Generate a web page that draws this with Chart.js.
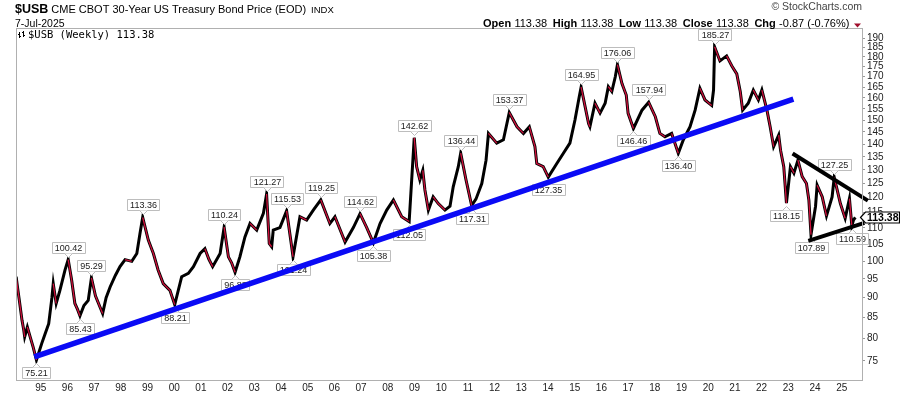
<!DOCTYPE html>
<html>
<head>
<meta charset="utf-8">
<script src="https://cdn.jsdelivr.net/npm/chart.js@4.4.1/dist/chart.umd.min.js"></script>
<style>
  html, body { margin: 0; padding: 0; background: #fff; }
</style>
</head>
<body>
<canvas id="chart" width="900" height="396"></canvas>
<script>
// $USB weekly as (decimal year, price)
const priceYears = [
  1994.08, 1994.13, 1994.20, 1994.30, 1994.36, 1994.40, 1994.50, 1994.60, 1994.72, 1994.84,
  1995.04, 1995.16, 1995.30, 1995.42, 1995.47, 1995.58, 1995.72, 1995.91, 1996.03, 1996.16,
  1996.28, 1996.38, 1996.47, 1996.62, 1996.78, 1996.90, 1997.05, 1997.22, 1997.32, 1997.45,
  1997.60, 1997.80, 1997.97, 1998.16, 1998.41, 1998.60, 1998.72, 1998.82, 1999.03, 1999.22,
  1999.40, 1999.59, 1999.84, 2000.02, 2000.28, 2000.53, 2000.72, 2000.97, 2001.15, 2001.30,
  2001.44, 2001.72, 2001.87, 2002.03, 2002.15, 2002.28, 2002.46, 2002.65, 2002.84, 2003.09,
  2003.34, 2003.46, 2003.56, 2003.65, 2003.71, 2003.96, 2004.21, 2004.40, 2004.45, 2004.71,
  2004.96, 2005.21, 2005.49, 2005.83, 2006.02, 2006.40, 2006.71, 2006.96, 2007.21, 2007.46,
  2007.71, 2007.96, 2008.21, 2008.52, 2008.80, 2008.99, 2009.08, 2009.20, 2009.31, 2009.39,
  2009.52, 2009.70, 2009.89, 2010.14, 2010.33, 2010.45, 2010.64, 2010.73, 2010.93, 2011.14,
  2011.30, 2011.52, 2011.68, 2011.77, 2012.08, 2012.33, 2012.55, 2012.84, 2013.08, 2013.30,
  2013.51, 2013.58, 2013.82, 2014.01, 2014.33, 2014.57, 2014.82, 2015.01, 2015.17, 2015.24,
  2015.52, 2015.57, 2015.76, 2015.95, 2016.14, 2016.26, 2016.39, 2016.52, 2016.60, 2016.77,
  2016.93, 2017.00, 2017.20, 2017.52, 2017.77, 2018.02, 2018.19, 2018.38, 2018.63, 2018.88,
  2019.07, 2019.32, 2019.51, 2019.69, 2019.88, 2020.13, 2020.20, 2020.24, 2020.44, 2020.69,
  2020.88, 2021.07, 2021.20, 2021.29, 2021.50, 2021.69, 2021.88, 2022.01, 2022.20, 2022.32,
  2022.45, 2022.64, 2022.71, 2022.83, 2022.93, 2023.08, 2023.21, 2023.36, 2023.52, 2023.68,
  2023.77, 2023.85, 2024.02, 2024.08, 2024.27, 2024.43, 2024.64, 2024.72, 2024.95, 2025.13,
  2025.29, 2025.38, 2025.44, 2025.51
];
const priceValues = [
  95.6, 92.8, 89.3, 84.3, 82.2, 80.4, 82.7, 80.5, 78.0, 75.21,
  78.9, 81.0, 83.5, 90.0, 93.7, 88.5, 91.9, 97.4, 100.42, 94.6,
  88.5, 87.0, 85.43, 88.0, 89.3, 95.29, 90.5, 87.6, 86.0, 90.0,
  92.8, 96.0, 98.4, 100.4, 99.9, 102.2, 108.3, 113.36, 106.2, 102.2,
  97.4, 93.7, 91.9, 88.21, 95.6, 96.5, 98.4, 102.2, 103.6, 100.5,
  98.4, 102.2, 110.24, 101.2, 99.5, 96.83, 101.2, 107.2, 111.4, 109.3,
  114.7, 121.27, 105.2, 104.2, 109.3, 110.1, 115.53, 104.2, 101.24, 113.6,
  112.5, 115.8, 119.25, 111.4, 113.6, 105.6, 110.1, 114.62, 110.1, 105.38,
  111.4, 115.8, 119.2, 113.6, 112.05, 142.62, 131.2, 126.3, 129.8, 122.7,
  115.8, 120.3, 118.0, 115.8, 117.1, 123.8, 131.2, 136.44, 126.3, 117.31,
  119.5, 125.0, 133.7, 144.4, 140.4, 141.8, 153.37, 147.2, 144.4, 147.2,
  139.0, 132.4, 131.2, 127.35, 132.4, 136.3, 140.4, 150.1, 160.5, 164.95,
  148.6, 147.2, 157.5, 153.1, 157.5, 165.2, 162.9, 170.0, 176.06, 166.7,
  161.3, 153.0, 146.46, 154.4, 157.94, 151.5, 144.4, 143.0, 144.4, 136.40,
  141.8, 147.2, 154.4, 164.4, 159.0, 156.5, 163.6, 185.27, 177.9, 180.5,
  175.5, 171.4, 162.9, 154.4, 157.5, 163.6, 159.0, 163.6, 154.4, 147.2,
  139.0, 143.7, 137.6, 131.2, 118.15, 131.2, 128.8, 133.7, 127.5, 125.0,
  119.2, 107.89, 117.1, 124.4, 120.3, 113.9, 120.3, 127.25, 118.0, 113.1,
  119.7, 110.59, 112.5, 113.38
];

// labelled highs and lows
const peakYears  = [1996.03, 1996.90, 1998.82, 2001.87, 2003.46, 2004.21, 2005.49, 2006.96, 2008.99, 2010.73, 2012.55, 2015.24, 2016.60, 2017.77, 2020.24, 2024.72];
const peakValues = [100.42, 95.29, 113.36, 110.24, 121.27, 115.53, 119.25, 114.62, 142.62, 136.44, 153.37, 164.95, 176.06, 157.94, 185.27, 127.25];
const lowYears   = [1994.84, 1996.47, 2000.02, 2002.28, 2004.45, 2007.46, 2008.80, 2011.14, 2014.01, 2017.20, 2018.88, 2022.93, 2023.85, 2025.38];
const lowValues  = [75.21, 85.43, 88.21, 96.83, 101.24, 105.38, 112.05, 117.31, 127.35, 146.46, 136.40, 118.15, 107.89, 110.59];

// trend lines
const trendYears  = [1994.76, 2023.19];
const trendValues = [75.9, 159.4];
const wedgeTopYears  = [2023.16, 2025.98];
const wedgeTopValues = [136.3, 119.0];
const wedgeLowYears  = [2023.75, 2025.85];
const wedgeLowValues = [106.0, 111.6];

// axes
const yearTicks = [];
for (let y = 1995; y <= 2025; y++) yearTicks.push(y);
const priceTicks = [];
for (let p = 75; p <= 190; p += 5) priceTicks.push(p);

const lastPrice = 113.38;

const SANS = '"Liberation Sans", Arial, sans-serif';
const RED = '#d0103c';

const toPts = (xs, ys) => xs.map((x, i) => ({ x: x, y: ys[i] }));

// grey call-out boxes on highs and lows
function drawTag(ctx, x, yTip, text, below) {
    ctx.font = '9px ' + SANS;
    const w = Math.round(ctx.measureText(text).width) + 5;
    const h = 11;
    const cx = Math.round(x) + 0.5;
    const left = Math.round(x - w / 2) + 0.5;
    const tip = Math.round(yTip) + 0.5;
    const edge = below ? tip + 4 : tip - 4;
    const top = below ? edge : edge - h;
    ctx.fillStyle = '#fff';
    ctx.fillRect(left, top, w, h);
    ctx.strokeStyle = '#bdbdbd';
    ctx.lineWidth = 1;
    ctx.beginPath();
    ctx.rect(left, top, w, h);
    ctx.stroke();
    // pointer
    ctx.fillStyle = '#fff';
    ctx.beginPath();
    ctx.moveTo(cx - 4, edge);
    ctx.lineTo(cx, tip);
    ctx.lineTo(cx + 4, edge);
    ctx.closePath();
    ctx.fill();
    ctx.beginPath();
    ctx.moveTo(cx - 4, edge);
    ctx.lineTo(cx, tip);
    ctx.lineTo(cx + 4, edge);
    ctx.stroke();
    ctx.fillStyle = '#1a1a1a';
    ctx.textAlign = 'center';
    ctx.textBaseline = 'middle';
    ctx.fillText(text, cx, top + h / 2 + 0.5);
}

const tagsPlugin = {
    id: 'tags',
    afterDatasetDraw(chart, args) {
        if (args.index !== 1) return;
        const { ctx, scales: { x, y } } = chart;
        ctx.save();
        peakYears.forEach((yr, i) => {
            drawTag(ctx, x.getPixelForValue(yr), y.getPixelForValue(peakValues[i]) - 3, peakValues[i].toFixed(2), false);
        });
        lowYears.forEach((yr, i) => {
            drawTag(ctx, x.getPixelForValue(yr), y.getPixelForValue(lowValues[i]) + 3, lowValues[i].toFixed(2), true);
        });
        ctx.restore();
    }
};

const framePlugin = {
    id: 'frame',
    afterDraw(chart) {
        const { ctx, chartArea: a, scales: { y } } = chart;
        ctx.save();
        // plot frame
        ctx.strokeStyle = '#b0b0b0';
        ctx.lineWidth = 1;
        ctx.strokeRect(a.left + 0.5, a.top + 0.5, a.right - a.left, a.bottom - a.top);

        // title lines
        ctx.textBaseline = 'alphabetic';
        ctx.textAlign = 'left';
        ctx.fillStyle = '#000';
        ctx.font = 'bold 12.5px ' + SANS;
        ctx.fillText('$USB', 15, 12.5);
        let px = 15 + ctx.measureText('$USB').width + 3;
        ctx.font = '11px ' + SANS;
        const sub = 'CME CBOT 30-Year US Treasury Bond Price (EOD)';
        ctx.fillText(sub, px, 12.5);
        px += ctx.measureText(sub).width + 5;
        ctx.font = '9.5px ' + SANS;
        ctx.fillText('INDX', px, 12.5);
        ctx.font = '10.5px ' + SANS;
        ctx.fillText('7-Jul-2025', 15, 26.5);

        ctx.fillStyle = '#444';
        ctx.textAlign = 'right';
        ctx.font = '10.5px ' + SANS;
        ctx.fillText('\u00A9 StockCharts.com', 862, 10);

        // OHLC summary
        ctx.textAlign = 'left';
        ctx.fillStyle = '#000';
        const parts = [['Open', 1], ['113.38', 0], ['High', 1], ['113.38', 0], ['Low', 1], ['113.38', 0],
                       ['Close', 1], ['113.38', 0], ['Chg', 1], ['-0.87 (-0.76%)', 0]];
        let ox = 483;
        parts.forEach(([t, b]) => {
            ctx.font = (b ? 'bold ' : '') + '11px ' + SANS;
            ctx.fillText(t, ox, 26.5);
            ox += ctx.measureText(t).width + (b ? 3.3 : 5.6);
        });
        ctx.fillStyle = '#a00e2c';
        ctx.beginPath();
        ctx.moveTo(ox - 1, 23.5);
        ctx.lineTo(ox + 6, 23.5);
        ctx.lineTo(ox + 2.5, 27.5);
        ctx.closePath();
        ctx.fill();

        // legend inside plot
        ctx.fillStyle = '#000';
        ctx.fillRect(19, 32, 1, 6);
        ctx.fillRect(18, 34, 1, 1);
        ctx.fillRect(20, 36, 1, 1);
        ctx.fillRect(23, 31, 1, 6);
        ctx.fillRect(22, 32, 1, 1);
        ctx.fillRect(24, 35, 1, 1);
        ctx.font = '10.5px "DejaVu Sans Mono", monospace';
        ctx.fillText('$USB (Weekly) 113.38', 28, 38);

        // last price tag on the axis
        const ly = Math.round(y.getPixelForValue(lastPrice)) + 0.5;
        const bl = a.right + 3.5;
        ctx.fillStyle = '#fff';
        ctx.strokeStyle = '#000';
        ctx.lineWidth = 1.2;
        ctx.beginPath();
        ctx.moveTo(a.right - 1.5, ly);
        ctx.lineTo(bl, ly - 5.5);
        ctx.lineTo(899.5, ly - 5.5);
        ctx.lineTo(899.5, ly + 5.5);
        ctx.lineTo(bl, ly + 5.5);
        ctx.closePath();
        ctx.fill();
        ctx.stroke();
        ctx.fillStyle = '#000';
        ctx.font = 'bold 10.5px ' + SANS;
        ctx.textBaseline = 'middle';
        ctx.fillText(lastPrice.toFixed(2), bl + 1.5, ly + 0.5);
        ctx.restore();
    }
};

new Chart(document.getElementById('chart'), {
    type: 'line',
    data: {
        datasets: [
            {
                // weekly bars: black body
                label: '$USB',
                data: toPts(priceYears, priceValues),
                order: 4,
                borderWidth: 3,
                borderColor: '#000',
                pointRadius: 0,
                tension: 0
            },
            {
                // down weeks show red inside the black
                label: '$USB down',
                data: toPts(priceYears, priceValues),
                order: 3,
                borderWidth: 1.3,
                borderColor: RED,
                pointRadius: 0,
                tension: 0,
                segment: {
                    borderColor: c => c.p1.parsed.y < c.p0.parsed.y ? RED : 'rgba(0,0,0,0)'
                }
            },
            {
                label: 'trend',
                data: toPts(trendYears, trendValues),
                order: 1,
                borderColor: '#0a0af5',
                borderWidth: 5.5,
                pointRadius: 0,
                clip: false
            },
            {
                label: 'wedge top',
                data: toPts(wedgeTopYears, wedgeTopValues),
                order: 1,
                borderColor: '#000',
                borderWidth: 4,
                pointRadius: 0,
                clip: false
            },
            {
                label: 'wedge low',
                data: toPts(wedgeLowYears, wedgeLowValues),
                order: 1,
                borderColor: '#000',
                borderWidth: 4,
                pointRadius: 0,
                clip: false
            }
        ]
    },
    options: {
        responsive: false,
        animation: false,
        devicePixelRatio: 1,
        layout: { padding: { top: 28, left: 16, right: 0, bottom: 0 } },
        plugins: {
            legend: { display: false },
            tooltip: { enabled: false }
        },
        scales: {
            x: {
                type: 'linear',
                position: 'bottom',
                min: 1994.075,
                max: 2025.76,
                afterBuildTicks: axis => { axis.ticks = yearTicks.map(v => ({ value: v })); },
                afterFit: axis => { axis.height = 16; },
                grid: { display: false, drawTicks: false },
                border: { display: false },
                ticks: {
                    autoSkip: false,
                    maxRotation: 0,
                    padding: 2,
                    color: '#222',
                    font: { family: SANS, size: 10 },
                    callback: v => String(v % 100).padStart(2, '0')
                }
            },
            y: {
                type: 'logarithmic',
                position: 'right',
                min: 71,
                max: 195.6,
                afterBuildTicks: axis => { axis.ticks = priceTicks.map(v => ({ value: v })); },
                afterFit: axis => { axis.width = 38; },
                grid: { drawOnChartArea: false, drawTicks: true, tickLength: 3, color: '#999' },
                border: { display: false },
                ticks: {
                    autoSkip: false,
                    padding: 2,
                    color: '#222',
                    font: { family: SANS, size: 10 },
                    callback: v => String(v)
                }
            }
        }
    },
    plugins: [tagsPlugin, framePlugin]
});
</script>
</body>
</html>
